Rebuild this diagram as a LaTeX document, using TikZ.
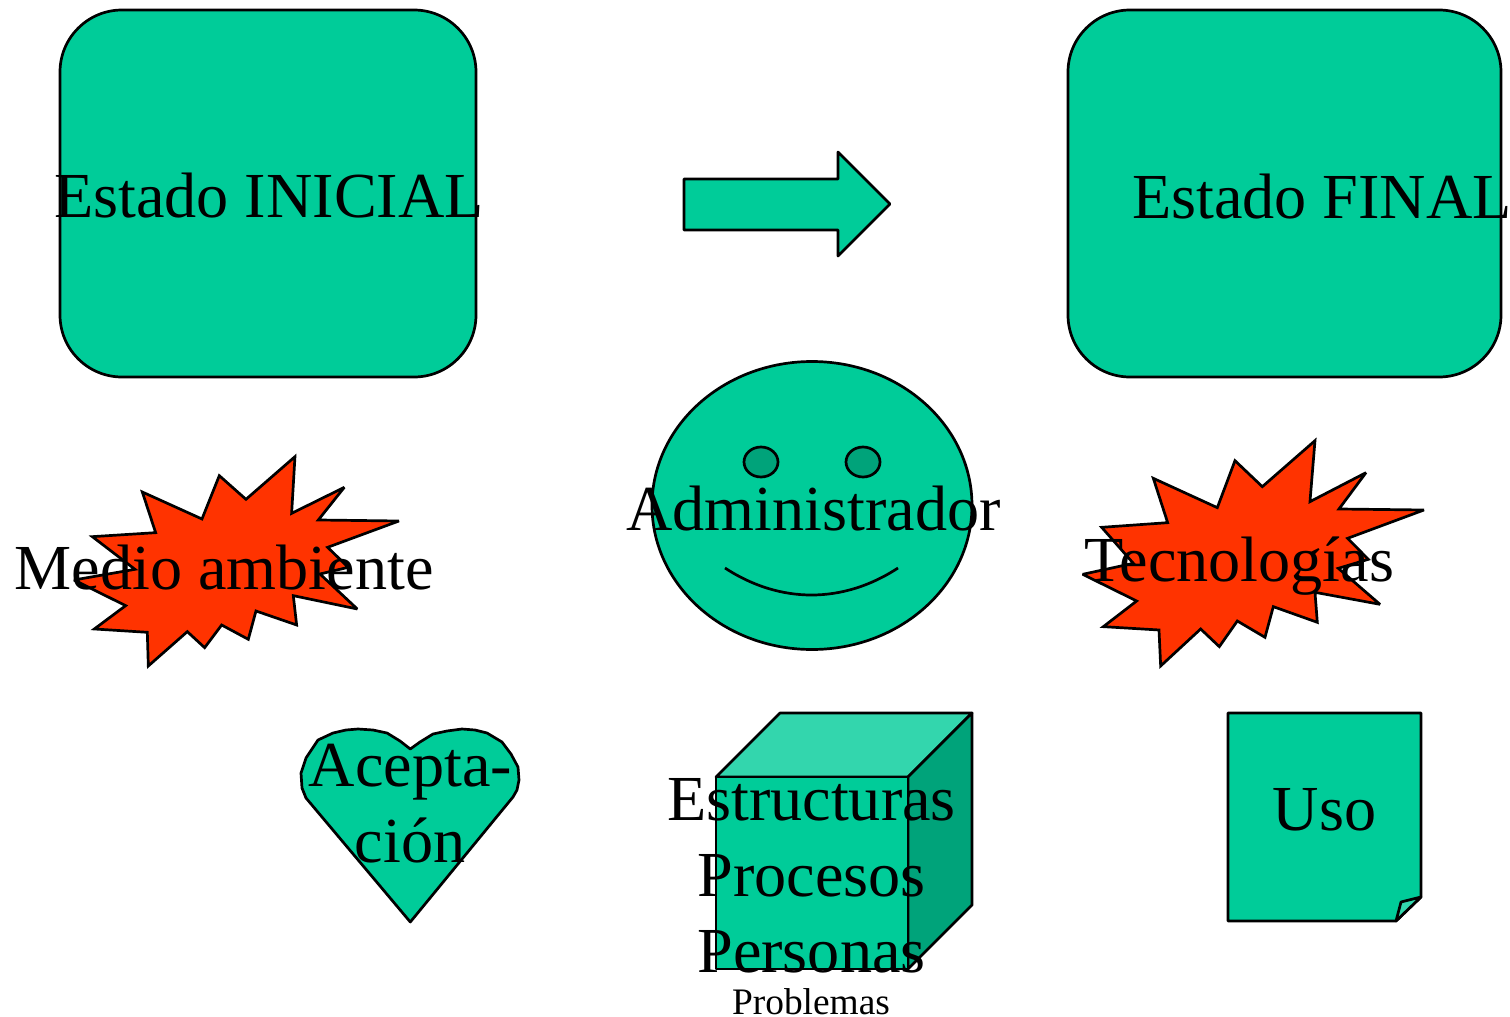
\documentclass[tikz,border=0pt]{standalone}
\usepackage{fontspec}
\setmainfont{Liberation Serif}
\definecolor{mint}{HTML}{00CC99}
\definecolor{mintlight}{HTML}{33D6AD}
\definecolor{mintdark}{HTML}{00A37A}
\definecolor{burst}{HTML}{FF3300}
\tikzset{
  shapeline/.style={draw=black,line width=2.7pt,line join=round,fill=mint},
  burststyle/.style={shapeline,line join=miter,miter limit=3,fill=burst},
  bigtext/.style={font=\fontsize{64.2}{64.2}\selectfont,anchor=base,inner sep=0pt,text=black},
  smalltext/.style={font=\fontsize{37.4}{37.4}\selectfont,anchor=base,inner sep=0pt,text=black}
}
\begin{document}
\begin{tikzpicture}[x=1pt,y=-1pt]
\useasboundingbox (0,0) rectangle (1510,1017);
% rounded boxes
\draw[shapeline,rounded corners=62pt] (60,10) rectangle (476,377);
\draw[shapeline,rounded corners=62pt] (1068,10) rectangle (1501,377);
% arrow
\draw[shapeline] (684,179) -- (838,179) -- (838,152) -- (890,204) -- (838,256) -- (838,230) -- (684,230) -- cycle;
% left burst
\begin{scope}[shift={(0,430)},x=0.3333pt,y=-0.3333pt]
\draw[burststyle] (885,80)--(875,250)--(1033,172)--(955,270)--(1197,273)--(983,352)--(1045,412)--(960,432)--(1072,537)--(880,497)--(890,585)--(768,543)--(745,628)--(665,585)--(614,653)--(562,605)--(445,708)--(442,607)--(283,597)--(377,527)--(222,450)--(405,418)--(277,320)--(467,308)--(427,186)--(606,267)--(658,137)--(738,208)--cycle;
\end{scope}
% right burst
\begin{scope}[shift={(1070,430)},x=0.3333pt,y=-0.3333pt]
\draw[burststyle] (735,32)--(720,215)--(888,128)--(807,237)--(1062,240)--(833,325)--(895,388)--(805,415)--(930,523)--(735,487)--(742,577)--(610,530)--(585,622)--(502,573)--(448,650)--(392,597)--(272,708)--(267,600)--(100,590)--(200,513)--(38,433)--(190,400)--(95,292)--(293,278)--(250,145)--(442,233)--(495,92)--(577,170)--cycle;
\end{scope}
% face
\draw[shapeline] (812,505.5) ellipse [x radius=160,y radius=144];
\draw[shapeline,fill=mintdark] (761,462) ellipse [x radius=17,y radius=15];
\draw[shapeline,fill=mintdark] (863,462) ellipse [x radius=17,y radius=15];
\draw[draw=black,line width=2.7pt] (725,568) .. controls (780,604) and (843,604) .. (898,568);
% heart
\draw[shapeline] (410.3,749) -- (420,742) -- (433,734) -- (447,731) -- (462,729) -- (475,730) -- (487,733) -- (502,742) -- (511,754) -- (518,767) -- (519,780) -- (517,790) -- (513,797) -- (410.3,922) -- (306,798) -- (302,788) -- (301,773) -- (306,758) -- (318,740) -- (333,733) -- (346,730) -- (358,729) -- (373,730) -- (387,733) -- (400,741) -- cycle;
% cube
\draw[shapeline,fill=mintlight] (716,777) -- (780,713) -- (972,713) -- (908,777) -- cycle;
\draw[shapeline,fill=mintdark] (908,777) -- (972,713) -- (972,905) -- (908,969) -- cycle;
\draw[shapeline] (716,777) rectangle (908,969);
% note
\draw[shapeline] (1228,713) -- (1421,713) -- (1421,897) -- (1396,921) -- (1228,921) -- cycle;
\draw[shapeline,fill=mintlight] (1396,921) -- (1401,902) -- (1421,897) -- cycle;
% labels
\node[bigtext] (inicial) at (269,217) {Estado INICIAL};
\node[bigtext] (final) at (1322,218) {Estado FINAL};
\node[bigtext] (medio) at (224,589) {Medio ambiente};
\node[bigtext] (admin) at (813.5,530) {Administrador};
\node[bigtext] (tecno) at (1239.5,581) {Tecnologías};
\node[bigtext] (acepta) at (410.5,786) {Acepta-};
\node[bigtext] (cion) at (410,862) {ción};
\node[bigtext] (estruct) at (811.5,820) {Estructuras};
\node[bigtext] (proc) at (811.5,896) {Procesos};
\node[bigtext] (pers) at (811.5,972) {Personas};
\node[bigtext] (uso) at (1324.5,830) {Uso};
\node[smalltext] (prob) at (811,1014) {Problemas};
\end{tikzpicture}
\end{document}
